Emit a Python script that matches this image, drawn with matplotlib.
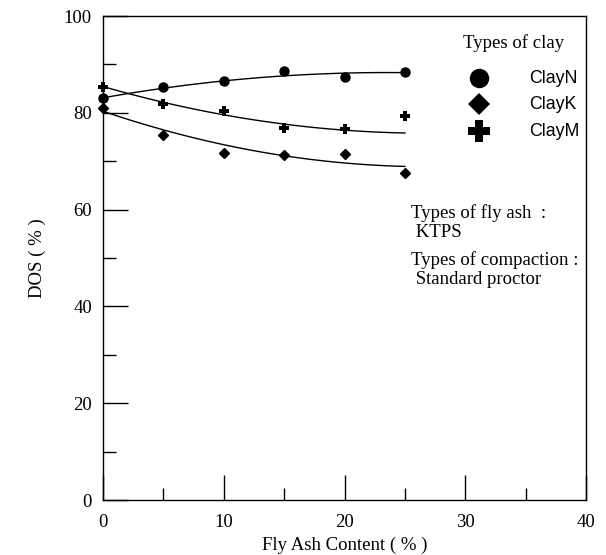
import numpy as np
import matplotlib.pyplot as plt

# data
fly_ash = [0, 5, 10, 15, 20, 25]
clay_n = [83.1, 85.4, 86.6, 88.6, 87.5, 88.5]
clay_k = [81.1, 75.4, 71.8, 71.2, 71.5, 67.6]
clay_m = [85.3, 81.8, 80.4, 76.9, 76.7, 79.3]

# trend curves at the same x
curve_n = [83.0, 85.3, 86.6, 87.6, 88.1, 88.4]
curve_k = [80.2, 76.8, 73.3, 71.1, 69.6, 69.0]
curve_m = [85.3, 82.5, 79.5, 77.6, 76.4, 75.9]

serif = ['Liberation Serif', 'DejaVu Serif']
sans = ['Liberation Sans', 'DejaVu Sans']
fs = 13.5

fig = plt.figure(figsize=(6.06, 5.55), dpi=100)
ax = fig.add_axes([0.17, 0.099, 0.797, 0.872])

xs = np.linspace(0, 25, 100)
for curve in (curve_n, curve_k, curve_m):
    coef = np.polyfit(fly_ash, curve, 2)
    ax.plot(xs, np.polyval(coef, xs), color='black', lw=1)

ax.plot(fly_ash, clay_n, 'o', color='black', ms=6.5, clip_on=False)
ax.plot(fly_ash, clay_k, 'D', color='black', ms=5.5, clip_on=False)
ax.plot(fly_ash, clay_m, 'P', color='black', ms=7.5, mew=0, clip_on=False)

ax.set_xlim(0, 40)
ax.set_ylim(0, 100)
ax.set_xticks([0, 10, 20, 30, 40])
ax.set_xticks([5, 15, 25, 35], minor=True)
ax.set_yticks([0, 20, 40, 60, 80, 100])
ax.set_yticks([10, 30, 50, 70, 90], minor=True)
ax.tick_params(which='both', direction='in', top=False, right=False,
               width=1, labelsize=fs)
ax.tick_params(which='major', length=18)
ax.tick_params(which='minor', length=9)
ax.tick_params(axis='x', pad=10)
ax.tick_params(axis='y', pad=8)
for lab in ax.get_xticklabels() + ax.get_yticklabels():
    lab.set_family(serif)
for sp in ax.spines.values():
    sp.set_linewidth(1)

ax.set_xlabel('Fly Ash Content ( % )', family=serif, fontsize=fs, labelpad=4)
ax.set_ylabel('DOS ( % )', family=serif, fontsize=fs, labelpad=13)

# legend box drawn as text and markers
ax.text(29.8, 94.5, 'Types of clay', family=serif, fontsize=fs, va='center')
leg_y = [87.2, 81.8, 76.2]
for (m, s), yy, name in zip([('o', 14), ('D', 11.5), ('P', 16)], leg_y,
                             ['ClayN', 'ClayK', 'ClayM']):
    ax.plot([31.1], [yy], m, color='black', ms=s, mew=0)
    ax.text(35.3, yy, name, family=sans, fontsize=12.8, va='center')

ax.text(25.5, 59.3, 'Types of fly ash  :', family=serif, fontsize=fs, va='center')
ax.text(25.5, 55.3, ' KTPS', family=serif, fontsize=fs, va='center')
ax.text(25.5, 49.5, 'Types of compaction :', family=serif, fontsize=fs, va='center')
ax.text(25.5, 45.5, ' Standard proctor', family=serif, fontsize=fs, va='center')

fig.savefig('out.png', dpi=100)
